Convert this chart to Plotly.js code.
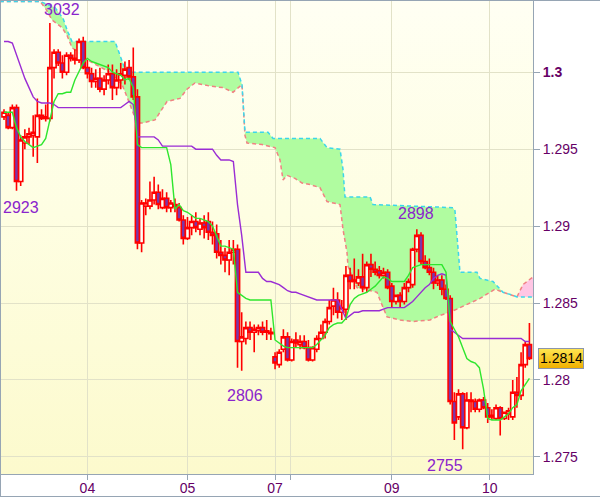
<!DOCTYPE html>
<html><head><meta charset="utf-8">
<script src="https://cdn.plot.ly/plotly-3.0.1.min.js"></script>
<style>
html,body{margin:0;padding:0;background:#fff;}
#wrap{position:relative;width:600px;height:497px;overflow:hidden;}
#bg{position:absolute;left:1px;top:1px;width:532px;height:473px;background:linear-gradient(to bottom,#fffff3 0%,#fefee2 45%,#fcfacd 100%);}
#frame{position:absolute;left:0;top:0;width:600px;height:497px;box-sizing:border-box;border-left:1px solid #96a5b4;border-top:1px solid #96a5b4;border-bottom:1px solid #96a5b4;}
#pricebox{position:absolute;left:538px;top:348px;width:46px;height:21px;box-sizing:border-box;border:1px solid #8c96aa;background:linear-gradient(to bottom,#ffe550,#f0b000);}
#chart{position:absolute;left:0;top:0;width:600px;height:497px;}
</style></head>
<body>
<div id="wrap">
  <div id="bg"></div>
  <div id="frame"></div>
  <div id="pricebox"></div>
  <div id="chart"></div>
</div>
<script>
// ---- hourly candles (index 0..126) ----
const open = [
1.2971,1.2972,1.2964,1.2977,1.2929,1.2954,1.2958,1.2959,1.2958,1.2972,
1.2970,1.2970,1.3003,1.3013,1.3006,1.3000,1.3011,1.3008,1.3008,1.3020,
1.3003,1.2999,1.2994,1.2996,1.2989,1.2995,1.2999,1.2990,1.2995,1.2998,
1.3003,1.2997,1.2984,1.2889,1.2913,1.2913,1.2917,1.2922,1.2912,1.2918,
1.2912,1.2913,1.2912,1.2904,1.2892,1.2899,1.2903,1.2898,1.2902,1.2903,
1.2896,1.2895,1.2883,1.2881,1.2878,1.2883,1.2885,1.2825,1.2827,1.2834,
1.2831,1.2832,1.2834,1.2832,1.2831,1.2815,1.2810,1.2820,1.2828,1.2813,
1.2826,1.2823,1.2825,1.2821,1.2813,1.2820,1.2827,1.2831,1.2838,1.2848,
1.2852,1.2844,1.2846,1.2868,1.2864,1.2863,1.2867,1.2860,1.2875,1.2872,
1.2871,1.2868,1.2870,1.2861,1.2851,1.2855,1.2851,1.2860,1.2862,1.2885,
1.2894,1.2877,1.2873,1.2870,1.2863,1.2865,1.2859,1.2853,1.2786,1.2776,
1.2791,1.2769,1.2786,1.2786,1.2781,1.2787,1.2782,1.2776,1.2775,1.2782,
1.2775,1.2778,1.2776,1.2792,1.2790,1.2810,1.2823];
const high = [
1.2976,1.2974,1.2979,1.2979,1.2959,1.2963,1.2964,1.2972,1.2983,1.2976,
1.2979,1.3032,1.3015,1.3015,1.3011,1.3013,1.3013,1.3015,1.3022,1.3023,
1.3008,1.3003,1.3002,1.3003,1.2998,1.3005,1.3005,1.3002,1.3006,1.3007,
1.3008,1.3016,1.2989,1.2917,1.2918,1.2929,1.2932,1.2927,1.2924,1.2922,
1.2917,1.2918,1.2915,1.2907,1.2906,1.2907,1.2909,1.2905,1.2907,1.2909,
1.2903,1.2901,1.2891,1.2886,1.2891,1.2891,1.2888,1.2844,1.2838,1.2838,
1.2836,1.2836,1.2838,1.2839,1.2834,1.2818,1.2820,1.2833,1.2831,1.2827,
1.2831,1.2829,1.2829,1.2826,1.2822,1.2829,1.2836,1.2840,1.2852,1.2860,
1.2857,1.2852,1.2874,1.2873,1.2879,1.2872,1.2882,1.2877,1.2882,1.2877,
1.2874,1.2873,1.2872,1.2863,1.2855,1.2857,1.2863,1.2866,1.2886,1.2898,
1.2896,1.2881,1.2879,1.2873,1.2868,1.2868,1.2862,1.2855,1.2792,1.2794,
1.2792,1.2792,1.2792,1.2788,1.2788,1.2789,1.2785,1.2781,1.2784,1.2783,
1.2779,1.2782,1.2800,1.2802,1.2818,1.2825,1.2837];
const low = [
1.2969,1.2963,1.2963,1.2923,1.2926,1.2950,1.2953,1.2945,1.2941,1.2969,
1.2968,1.2968,1.2996,1.3004,1.2996,1.2998,1.3007,1.3005,1.3006,1.3002,
1.2996,1.2990,1.2990,1.2987,1.2985,1.2992,1.2982,1.2985,1.2989,1.2992,
1.2995,1.2982,1.2885,1.2883,1.2907,1.2911,1.2914,1.2911,1.2911,1.2909,
1.2909,1.2909,1.2903,1.2888,1.2891,1.2894,1.2896,1.2894,1.2892,1.2891,
1.2888,1.2879,1.2875,1.2870,1.2868,1.2875,1.2808,1.2806,1.2823,1.2826,
1.2818,1.2829,1.2829,1.2826,1.2826,1.2807,1.2808,1.2818,1.2812,1.2812,
1.2821,1.2820,1.2820,1.2812,1.2812,1.2818,1.2826,1.2827,1.2836,1.2842,
1.2840,1.2839,1.2839,1.2859,1.2859,1.2861,1.2857,1.2857,1.2867,1.2868,
1.2866,1.2866,1.2859,1.2847,1.2849,1.2847,1.2849,1.2857,1.2860,1.2883,
1.2875,1.2872,1.2868,1.2859,1.2861,1.2855,1.2852,1.2784,1.2761,1.2774,
1.2755,1.2768,1.2779,1.2779,1.2779,1.2781,1.2772,1.2774,1.2774,1.2764,
1.2774,1.2774,1.2774,1.2782,1.2787,1.2808,1.2813];
const close = [
1.2974,1.2964,1.2977,1.2929,1.2956,1.2958,1.2960,1.2961,1.2972,1.2970,
1.2971,1.3003,1.3013,1.3006,1.3000,1.3011,1.3009,1.3009,1.3020,1.3003,
1.2999,1.2994,1.2996,1.2989,1.2995,1.2999,1.2990,1.2995,1.2999,1.3002,
1.2997,1.2984,1.2889,1.2915,1.2915,1.2917,1.2922,1.2914,1.2918,1.2912,
1.2915,1.2914,1.2904,1.2892,1.2899,1.2903,1.2899,1.2902,1.2899,1.2896,
1.2894,1.2883,1.2881,1.2878,1.2883,1.2885,1.2825,1.2828,1.2834,1.2831,
1.2833,1.2834,1.2831,1.2831,1.2830,1.2811,1.2818,1.2828,1.2813,1.2825,
1.2824,1.2825,1.2821,1.2813,1.2821,1.2827,1.2831,1.2838,1.2847,1.2852,
1.2844,1.2847,1.2868,1.2864,1.2865,1.2867,1.2860,1.2875,1.2872,1.2870,
1.2868,1.2870,1.2860,1.2851,1.2855,1.2851,1.2860,1.2864,1.2885,1.2894,
1.2877,1.2873,1.2870,1.2863,1.2865,1.2859,1.2853,1.2786,1.2772,1.2791,
1.2769,1.2787,1.2787,1.2781,1.2787,1.2782,1.2776,1.2777,1.2782,1.2775,
1.2779,1.2780,1.2792,1.2790,1.2810,1.2823,1.2814];

// ---- Ichimoku lines ----
const tenkan = [
1.2974,1.2974,1.2974,1.2964,1.2958,1.2955,1.2953,1.2951,1.2952,1.2953,
1.2957,1.2970,1.2981,1.2986,1.2986,1.2987,1.2987,1.2995,1.3000,1.3006,
1.3009,1.3007,1.3006,1.3005,1.3004,1.3003,1.3000,1.2999,1.2998,1.2995,
1.2996,1.2990,1.2953,1.2951,1.2951,1.2951,1.2951,1.2951,1.2951,1.2951,
1.2940,1.2911,1.2914,1.2910,1.2909,1.2907,1.2905,1.2905,1.2904,1.2903,
1.2900,1.2894,1.2887,1.2887,1.2886,1.2885,1.2857,1.2855,1.2853,1.2852,
1.2852,1.2852,1.2852,1.2852,1.2852,1.2826,1.2824,1.2822,1.2821,1.2821,
1.2821,1.2821,1.2821,1.2821,1.2821,1.2823,1.2826,1.2829,1.2834,1.2836,
1.2837,1.2837,1.2840,1.2849,1.2853,1.2855,1.2856,1.2857,1.2859,1.2861,
1.2864,1.2867,1.2866,1.2864,1.2864,1.2864,1.2864,1.2868,1.2873,1.2874,
1.2875,1.2875,1.2875,1.2875,1.2875,1.2875,1.2870,1.2838,1.2833,1.2828,
1.2821,1.2814,1.2812,1.2811,1.2808,1.2794,1.2775,1.2774,1.2774,1.2774,
1.2776,1.2778,1.2782,1.2784,1.2793,1.2797,1.2801];
const kijun = [
1.3020,1.3020,1.3019,1.3011,1.3003,1.2996,1.2990,1.2984,1.2981,1.2980,
1.2980,1.2980,1.2979,1.2977,1.2977,1.2977,1.2977,1.2977,1.2977,1.2977,
1.2977,1.2977,1.2977,1.2977,1.2977,1.2977,1.2977,1.2977,1.2977,1.2979,
1.2981,1.2979,1.2958,1.2958,1.2958,1.2958,1.2958,1.2956,1.2952,1.2952,
1.2952,1.2952,1.2952,1.2952,1.2952,1.2952,1.2950,1.2950,1.2950,1.2950,
1.2950,1.2946,1.2943,1.2943,1.2943,1.2942,1.2914,1.2894,1.2870,1.2870,
1.2870,1.2870,1.2866,1.2864,1.2864,1.2863,1.2862,1.2860,1.2858,1.2857,
1.2857,1.2856,1.2855,1.2854,1.2853,1.2852,1.2852,1.2852,1.2852,1.2852,
1.2852,1.2846,1.2840,1.2842,1.2844,1.2844,1.2845,1.2845,1.2845,1.2845,
1.2845,1.2846,1.2847,1.2847,1.2847,1.2847,1.2847,1.2849,1.2851,1.2854,
1.2857,1.2860,1.2862,1.2866,1.2868,1.2869,1.2868,1.2833,1.2831,1.2829,
1.2827,1.2827,1.2827,1.2827,1.2827,1.2827,1.2827,1.2827,1.2827,1.2827,
1.2827,1.2827,1.2827,1.2827,1.2827,1.2825,1.2825];

// Senkou span A / B (vertex position in candle units, value)
const spanAx = [-1,8.63,12.23,14.15,15.35,16.31,26.62,27.34,29.02,29.74,56.12,57.07,57.79,63.31,64.51,75.78,77.46,80.58,81.29,81.77,87.77,88.49,107.67,108.15,109.35,113.43,114.15,117.27,119.66,122.06,123.02,126.86];
const spanA  = [1.3046,1.3046,1.3042,1.3035,1.3026,1.3020,1.3020,1.3015,1.3002,1.3000,1.3000,1.2992,1.2961,1.2961,1.2957,1.2957,1.2951,1.2950,1.2937,1.2919,1.2919,1.2914,1.2912,1.2910,1.2870,1.2870,1.2866,1.2864,1.2857,1.2855,1.2854,1.2854];
const spanBx = [-1,8.63,10.07,11.51,13.91,15.11,16.31,20.62,25.42,28.30,29.50,30.70,31.89,33.33,36.21,39.09,42.21,43.88,45.80,49.40,52.52,54.92,56.12,57.07,57.79,58.27,61.87,64.99,66.19,66.91,67.87,69.78,71.46,73.38,75.78,77.46,80.58,81.29,82.25,82.49,84.65,89.45,90.17,91.85,94.96,98.08,102.16,104.56,106.95,109.35,111.75,114.15,116.55,117.75,119.66,122.06,123.02,124.46,126.86];
const spanB  = [1.3046,1.3046,1.3041,1.3034,1.3029,1.3024,1.3016,1.3007,1.3000,1.2992,1.2984,1.2976,1.2967,1.2967,1.2969,1.2981,1.2983,1.2989,1.2993,1.2991,1.2990,1.2987,1.2990,1.2992,1.2959,1.2954,1.2953,1.2951,1.2943,1.2930,1.2933,1.2931,1.2928,1.2927,1.2925,1.2916,1.2914,1.2898,1.2883,1.2874,1.2860,1.2857,1.2852,1.2841,1.2839,1.2838,1.2839,1.2842,1.2844,1.2847,1.2850,1.2853,1.2857,1.2859,1.2857,1.2855,1.2854,1.2862,1.2867];
const cloudCross = 123.02;

// axis ticks
const dayTickPos = [20,44,65,68.8,93,116.5];
const dayLabels  = ['04','05','07','','09','10'];
const priceTicks = [1.275,1.28,1.285,1.29,1.295,1.3];
const priceLabels = ['1.275','1.28','1.285','1.29','1.295','<b>1.3</b>'];
const lastPrice = 1.2814;

// extremes labelled on chart: [candle index, 'high'|'low', label x, label y]
const extremeLabels = [
  [11,'high',13.8,1.30411],
  [3,'low',3.96,1.29118],
  [57,'low',57.8,1.27896],
  [99,'high',98.7,1.29085],
  [110,'low',105.8,1.27447]
];

const idx = close.map((_, i) => i);
const XR = [-0.72, 126.86];
const YR = [1.27389, 1.30463];

function part(xs, ys, test){ const ox=[],oy=[]; xs.forEach((x,i)=>{ if(test(x)){ox.push(x);oy.push(ys[i]);} }); return [ox,oy]; }
const [bMx,bMy] = part(spanBx, spanB, x => x <= cloudCross);
const [aMx,aMy] = part(spanAx, spanA, x => x <= cloudCross);
const [aEx,aEy] = part(spanAx, spanA, x => x >= cloudCross);
const [bEx,bEy] = part(spanBx, spanB, x => x >= cloudCross);

const none = {width:0, color:'rgba(0,0,0,0)'};
const traces = [
  {type:'scatter', mode:'lines', x:bMx, y:bMy, line:none, hoverinfo:'skip'},
  {type:'scatter', mode:'lines', x:aMx, y:aMy, line:none, fill:'tonexty', fillcolor:'#b0fca0', hoverinfo:'skip'},
  {type:'scatter', mode:'lines', x:aEx, y:aEy, line:none, hoverinfo:'skip'},
  {type:'scatter', mode:'lines', x:bEx, y:bEy, line:none, fill:'tonexty', fillcolor:'#ffc6e4', hoverinfo:'skip'},
  {type:'scatter', mode:'lines', x:spanBx, y:spanB, line:{color:'#f08282', width:1.5, dash:'4px,3px'}, hoverinfo:'skip'},
  {type:'scatter', mode:'lines', x:spanAx, y:spanA, line:{color:'#3cd6ea', width:1.5, dash:'4px,3px'}, hoverinfo:'skip'},
  {type:'candlestick', x:idx, open:open, high:high, low:low, close:close, xaxis:'x2', yaxis:'y2',
   whiskerwidth:0,
   increasing:{line:{color:'#ff0000', width:1.6}, fillcolor:'rgba(255,255,248,0.9)'},
   decreasing:{line:{color:'#ff0000', width:1.6}, fillcolor:'#7a36a8'},
   hoverinfo:'skip'},
  {type:'scatter', mode:'lines', x:idx, y:kijun, xaxis:'x2', yaxis:'y2', line:{color:'#9a2cd4', width:1.4}, hoverinfo:'skip'},
  {type:'scatter', mode:'lines', x:idx, y:tenkan, xaxis:'x2', yaxis:'y2', line:{color:'#2ee62e', width:1.4}, hoverinfo:'skip'}
];

const tickFont = {family:'Liberation Sans, Arial, sans-serif', size:14, color:'#660066'};
const frameCol = '#96a5b4';
const gridCol = 'rgb(226,226,200)';

const annotations = extremeLabels.map(([i, kind, lx, ly]) => {
  const v = kind === 'high' ? high[i] : low[i];
  return {xref:'x', yref:'y', x:lx, y:ly, text:String(Math.round(v*10000) % 10000),
          showarrow:false, xanchor:'center', yanchor:'middle',
          font:{family:'Liberation Sans, Arial, sans-serif', size:16, color:'#8a24cc'}};
});
annotations.push({xref:'paper', yref:'y', x:(561-1)/532, y:lastPrice, text:lastPrice.toFixed(4),
  showarrow:false, xanchor:'center', yanchor:'middle',
  font:{family:'Liberation Sans, Arial, sans-serif', size:14, color:'#000'}});

const layout = {
  width:600, height:497,
  margin:{l:1, r:67, t:1, b:23, pad:0},
  paper_bgcolor:'rgba(0,0,0,0)', plot_bgcolor:'rgba(0,0,0,0)',
  showlegend:false, hovermode:false,
  boxgap:0, boxgroupgap:0,
  xaxis:{range:XR, tickmode:'array', tickvals:dayTickPos, ticktext:dayLabels,
    showgrid:true, gridcolor:gridCol, gridwidth:1, zeroline:false,
    showline:true, linecolor:frameCol, linewidth:1, mirror:true,
    ticks:'outside', ticklen:5, tickcolor:frameCol, tickfont:tickFont,
    ticklabelstandoff:-4,
    rangeslider:{visible:false}, fixedrange:true},
  yaxis:{range:YR, side:'right', tickmode:'array', tickvals:priceTicks, ticktext:priceLabels,
    showgrid:true, gridcolor:gridCol, gridwidth:1, zeroline:false,
    showline:true, linecolor:frameCol, linewidth:1, mirror:true,
    ticks:'outside', ticklen:6, tickcolor:frameCol, tickfont:tickFont, fixedrange:true},
  xaxis2:{overlaying:'x', range:XR, visible:false, rangeslider:{visible:false}, fixedrange:true},
  yaxis2:{overlaying:'y', range:YR, visible:false, fixedrange:true},
  annotations:annotations
};

Plotly.newPlot('chart', traces, layout, {staticPlot:true, displayModeBar:false});
</script>
</body></html>
